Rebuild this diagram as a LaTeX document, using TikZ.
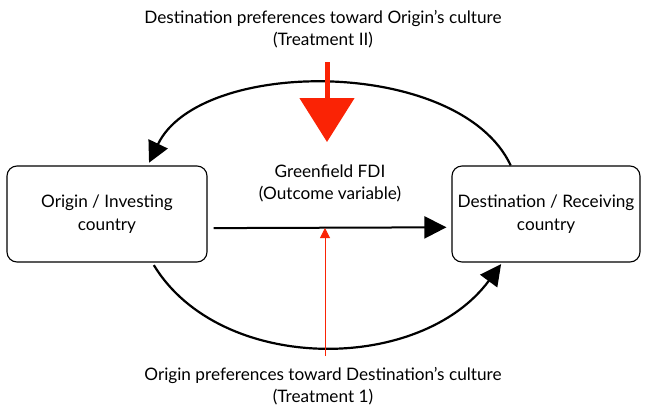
\documentclass[tikz,border=0pt]{standalone}
\usepackage{fontspec}
\setmainfont{Lato}
\usetikzlibrary{arrows.meta}
\definecolor{tred}{RGB}{250,35,5}
\tikzset{
  country/.style={draw, line width=1.1pt, rounded corners=10pt, minimum width=200pt, minimum height=96pt, align=center, font=\fontsize{17.2}{23}\selectfont},
  lab/.style={align=center, font=\fontsize{17.2}{22}\selectfont},
  flow/.style={line width=2pt, -{Triangle[width=22pt,length=22pt]}},
  arc/.style={line width=2.2pt, -{Triangle[width=21pt,length=21pt]}},
}
\begin{document}
\begin{tikzpicture}[x=1pt,y=-1pt]
\useasboundingbox (0,0) rectangle (646,408);
\node[country] (origin) at (107,214) {Origin / Investing\\country};
\node[country, minimum width=188pt] (dest) at (546,214) {Destination / Receiving\\country};
\node[lab] (toplab) at (323,29) {Destination preferences toward Origin’s culture\\(Treatment II)};
\node[lab] (botlab) at (323,386) {Origin preferences toward Destination’s culture\\(Treatment 1)};
\node[lab] (fdi) at (330,183) {Greenfield FDI\\(Outcome variable)};
\draw[flow, shorten <=6pt, shorten >=5pt] (origin.-8) -- (dest.188);
\draw[arc, shorten >=3pt] (dest.126) .. controls (460,57) and (200,57) .. (origin.50);
\draw[arc, shorten <=3pt, shorten >=2pt] (origin.-47) .. controls (220,374) and (420,374) .. (dest.-132);
\coordinate (t2s) at (327,62);
\coordinate (t2e) at (327,142);
\draw[tred, line width=5pt, -{Triangle[width=54pt,length=44pt]}] (t2s) -- (t2e);
\coordinate (t1s) at (325,356);
\coordinate (t1e) at (325,228);
\draw[tred, line width=1pt, -{Triangle[width=10pt,length=10pt]}] (t1s) -- (t1e);
\end{tikzpicture}
\end{document}
